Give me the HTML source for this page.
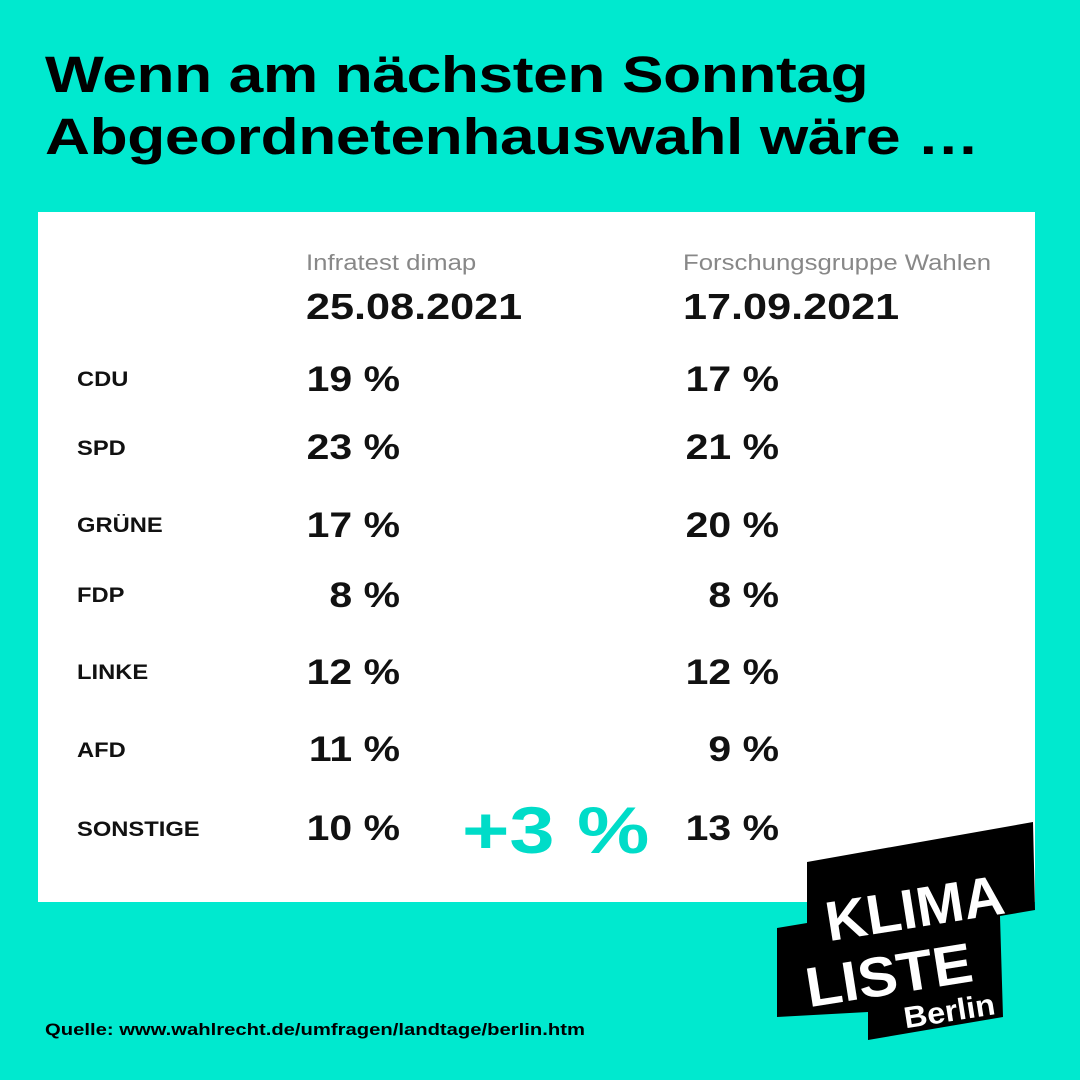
<!DOCTYPE html>
<html><head><meta charset="utf-8"><style>
body{margin:0;width:1080px;height:1080px;background:#00e9cf;position:relative;overflow:hidden;font-family:"Liberation Sans",sans-serif;color:#000}
.t{position:absolute;white-space:nowrap;transform-origin:left top}
h1{position:absolute;left:45px;top:44px;margin:0;font-size:51px;line-height:62px;font-weight:bold;letter-spacing:-0.3px;transform:scaleX(1.22);transform-origin:left top;white-space:nowrap}
.box{position:absolute;left:38px;top:212px;width:997px;height:690px;background:#fff}
.src{font-size:22px;color:#888;transform:scaleX(1.17)}
.date{font-size:36px;font-weight:bold;color:#111;transform:scaleX(1.2)}
.p{font-size:21px;font-weight:bold;color:#111;transform:scaleX(1.13)}
.v{font-size:35px;font-weight:bold;color:#111;width:95px;text-align:right;transform:scaleX(1.17);transform-origin:right top}
</style></head><body>
<h1>Wenn am nächsten Sonntag<br>Abgeordnetenhauswahl wäre …</h1>
<div class="box"></div>
<div class="t src" style="left:306px;top:250px">Infratest dimap</div>
<div class="t src" style="left:683px;top:250px">Forschungsgruppe Wahlen</div>
<div class="t date" style="left:306px;top:286px">25.08.2021</div>
<div class="t date" style="left:683px;top:286px">17.09.2021</div>

<div class="t p" style="left:77px;top:368px">CDU</div>
<div class="t p" style="left:77px;top:437px">SPD</div>
<div class="t p" style="left:77px;top:514px">GRÜNE</div>
<div class="t p" style="left:77px;top:584px">FDP</div>
<div class="t p" style="left:77px;top:661px">LINKE</div>
<div class="t p" style="left:77px;top:739px">AFD</div>
<div class="t p" style="left:77px;top:818px">SONSTIGE</div>

<div class="t v" style="left:305px;top:360px">19 %</div>
<div class="t v" style="left:305px;top:428px">23 %</div>
<div class="t v" style="left:305px;top:506px">17 %</div>
<div class="t v" style="left:305px;top:576px">8 %</div>
<div class="t v" style="left:305px;top:653px">12 %</div>
<div class="t v" style="left:305px;top:730px">11 %</div>
<div class="t v" style="left:305px;top:809px">10 %</div>

<div class="t v" style="left:684px;top:360px">17 %</div>
<div class="t v" style="left:684px;top:428px">21 %</div>
<div class="t v" style="left:684px;top:506px">20 %</div>
<div class="t v" style="left:684px;top:576px">8 %</div>
<div class="t v" style="left:684px;top:653px">12 %</div>
<div class="t v" style="left:684px;top:730px">9 %</div>
<div class="t v" style="left:684px;top:809px">13 %</div>

<div class="t" style="left:462px;top:792px;font-size:66px;font-weight:bold;color:#00dcc8;transform:scaleX(1.23)">+3 %</div>

<svg style="position:absolute;left:0;top:0" width="1080" height="1080">
<polygon fill="#000" points="807,862 1033,822 1035,910 1000,916 1003,1017 868,1040 868,1012 777,1017 777,928 807,923"/>
<g transform="rotate(-9 900 930)" fill="#fff" font-family="Liberation Sans Narrow, Liberation Sans, sans-serif" font-weight="bold">
<text x="828" y="930" font-size="56" textLength="180" lengthAdjust="spacingAndGlyphs">KLIMA</text>
<text x="798" y="992" font-size="56" textLength="168" lengthAdjust="spacingAndGlyphs">LISTE</text>
<text x="890" y="1028" font-size="30" textLength="92" lengthAdjust="spacingAndGlyphs">Berlin</text>
</g>
</svg>

<div class="t" style="left:45px;top:1020px;font-size:17px;font-weight:bold;transform:scaleX(1.19)">Quelle: www.wahlrecht.de/umfragen/landtage/berlin.htm</div>
</body></html>
